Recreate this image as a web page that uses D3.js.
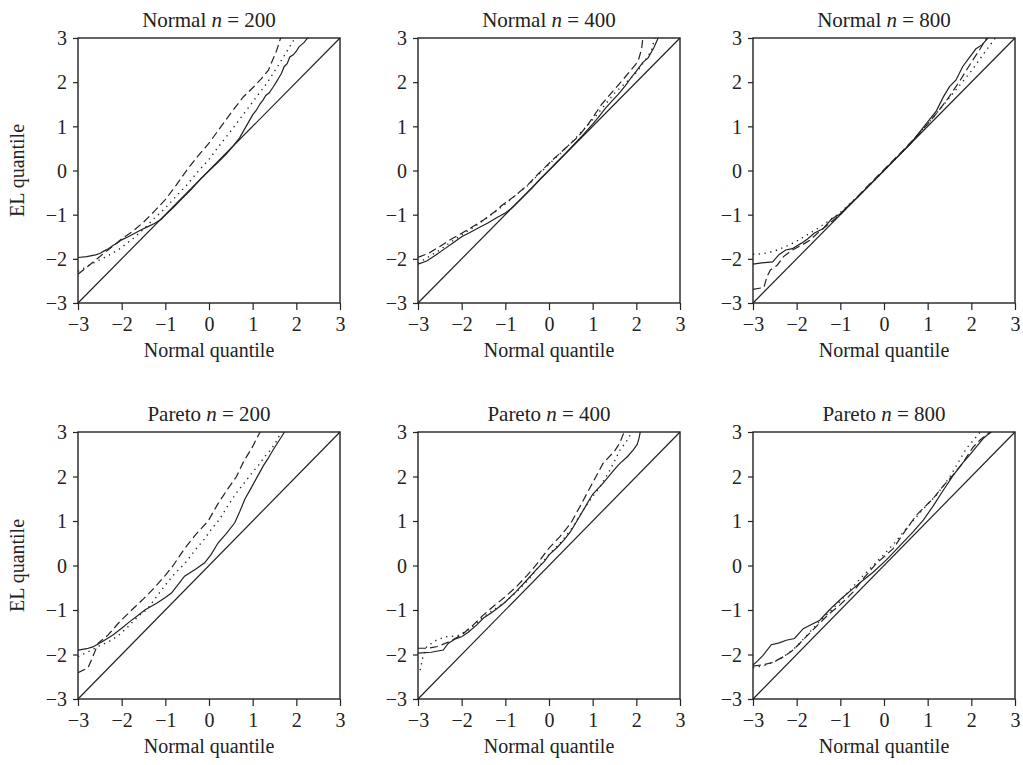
<!DOCTYPE html>
<meta charset="utf-8">
<script src="https://d3js.org/d3.v7.min.js"></script>
<style>
  body { margin: 0; background: #fff; }
  svg { font-family: "Liberation Serif", "Times New Roman", serif; }
</style>
<div id="my_dataviz"></div>
<script>

// tick values shared by every panel
const axisTicks = [-3, -2, -1, 0, 1, 2, 3];
const distNames = ["Normal", "Pareto"];
const sampleSizes = [200, 400, 800];

// curves: [normal quantile, EL quantile]
const normal200Solid = [[-3,-1.97],[-2.8,-1.95],[-2.6,-1.91],[-2.5,-1.88],[-2.4,-1.82],[-2.3,-1.77],[-2.2,-1.7],[-2.1,-1.64],[-2.0,-1.57],[-1.85,-1.5],[-1.7,-1.42],[-1.55,-1.34],[-1.4,-1.27],[-1.25,-1.2],[-1.1,-1.11],[-1.0,-1.01],[-0.8,-0.82],[-0.6,-0.62],[-0.4,-0.42],[-0.2,-0.2],[0,-0.01],[0.2,0.18],[0.4,0.38],[0.55,0.55],[0.7,0.74],[0.85,1.0],[1.0,1.26],[1.08,1.36],[1.17,1.51],[1.24,1.6],[1.3,1.7],[1.38,1.76],[1.47,1.89],[1.54,2.0],[1.6,2.1],[1.66,2.2],[1.72,2.35],[1.79,2.42],[1.85,2.57],[1.93,2.62],[2.0,2.7],[2.06,2.8],[2.12,2.85],[2.18,2.9],[2.24,2.98],[2.28,3.0]];
const normal200Dashed = [[-3,-2.35],[-2.75,-2.15],[-2.54,-1.98],[-2.25,-1.75],[-2,-1.55],[-1.75,-1.38],[-1.5,-1.17],[-1.25,-0.92],[-1,-0.66],[-0.75,-0.33],[-0.5,0.02],[-0.25,0.33],[0,0.62],[0.25,0.96],[0.5,1.3],[0.79,1.67],[1.02,1.89],[1.2,2.08],[1.36,2.27],[1.55,2.72],[1.64,3.0]];
const normal200Dotted = [[-3,-2.28],[-2.75,-2.15],[-2.5,-2.02],[-2.35,-1.95],[-2.08,-1.8],[-1.75,-1.55],[-1.5,-1.33],[-1.25,-1.08],[-1,-0.85],[-0.75,-0.58],[-0.5,-0.32],[-0.25,-0.02],[0,0.25],[0.21,0.53],[0.45,0.83],[0.71,1.17],[1.0,1.55],[1.32,1.97],[1.6,2.4],[1.89,2.87],[1.97,3.0]];

const normal400Solid = [[-3,-2.12],[-2.8,-2.05],[-2.6,-1.92],[-2.4,-1.78],[-2.2,-1.64],[-2.0,-1.5],[-1.8,-1.4],[-1.6,-1.29],[-1.4,-1.19],[-1.2,-1.07],[-1.0,-0.96],[-0.85,-0.85],[-0.6,-0.61],[-0.4,-0.41],[-0.2,-0.19],[0,0.01],[0.2,0.21],[0.4,0.41],[0.6,0.62],[0.8,0.83],[1.0,1.05],[1.12,1.19],[1.3,1.42],[1.45,1.58],[1.58,1.72],[1.75,1.92],[1.88,2.1],[2.0,2.25],[2.15,2.45],[2.27,2.55],[2.4,2.78],[2.5,3.0]];
const normal400Dashed = [[-3,-1.97],[-2.75,-1.87],[-2.5,-1.72],[-2.25,-1.56],[-2,-1.42],[-1.86,-1.34],[-1.5,-1.12],[-1.25,-0.94],[-1.09,-0.8],[-0.75,-0.55],[-0.48,-0.32],[-0.25,-0.08],[0.05,0.21],[0.35,0.48],[0.66,0.76],[0.9,1.05],[1.2,1.49],[1.45,1.78],[1.73,2.1],[2.04,2.47],[2.12,2.75],[2.15,3.0]];
const normal400Dotted = [[-3,-2.1],[-2.75,-1.95],[-2.5,-1.8],[-2.25,-1.62],[-2,-1.46],[-1.75,-1.3],[-1.5,-1.13],[-1.25,-0.95],[-1,-0.76],[-0.75,-0.55],[-0.5,-0.35],[-0.25,-0.1],[0,0.14],[0.25,0.38],[0.5,0.62],[0.75,0.88],[1,1.15],[1.25,1.45],[1.5,1.75],[1.75,1.98],[1.96,2.17],[2.15,2.42],[2.34,2.7],[2.42,3.0]];

const normal800Solid = [[-3,-2.12],[-2.8,-2.09],[-2.55,-2.07],[-2.4,-1.9],[-2.25,-1.8],[-2.1,-1.77],[-1.9,-1.65],[-1.75,-1.55],[-1.6,-1.42],[-1.4,-1.32],[-1.2,-1.1],[-1.0,-0.98],[-0.8,-0.78],[-0.6,-0.6],[-0.4,-0.4],[-0.2,-0.2],[0,0],[0.2,0.2],[0.4,0.4],[0.6,0.6],[0.8,0.85],[1.0,1.1],[1.2,1.35],[1.35,1.65],[1.5,1.9],[1.65,2.05],[1.8,2.35],[1.95,2.55],[2.1,2.75],[2.25,2.85],[2.38,3.0]];
const normal800Dashed = [[-3,-2.69],[-2.75,-2.65],[-2.68,-2.4],[-2.6,-2.25],[-2.45,-2.15],[-2.3,-1.95],[-2.1,-1.8],[-1.9,-1.7],[-1.7,-1.58],[-1.5,-1.4],[-1.25,-1.2],[-1,-1.0],[-0.5,-0.48],[0,0.02],[0.5,0.52],[1,1.05],[1.25,1.35],[1.5,1.68],[1.75,2.05],[2,2.45],[2.2,2.75],[2.35,3.0]];
const normal800Dotted = [[-3,-1.9],[-2.75,-1.88],[-2.5,-1.82],[-2.25,-1.72],[-2,-1.6],[-1.75,-1.45],[-1.5,-1.3],[-1.25,-1.13],[-1,-0.95],[-0.5,-0.5],[0,0],[0.5,0.5],[1,1.05],[1.25,1.35],[1.5,1.65],[1.75,1.95],[2,2.25],[2.25,2.6],[2.55,3.0]];

const pareto200Solid = [[-3,-1.9],[-2.8,-1.87],[-2.66,-1.83],[-2.43,-1.7],[-2.2,-1.56],[-2.0,-1.41],[-1.8,-1.25],[-1.6,-1.1],[-1.47,-1.0],[-1.2,-0.85],[-1.0,-0.72],[-0.86,-0.62],[-0.7,-0.42],[-0.56,-0.24],[-0.3,-0.08],[-0.1,0.06],[0.05,0.25],[0.21,0.51],[0.4,0.72],[0.59,0.96],[0.7,1.2],[0.82,1.49],[0.97,1.75],[1.12,2.02],[1.25,2.25],[1.35,2.4],[1.47,2.6],[1.58,2.77],[1.73,3.0]];
const pareto200Dashed = [[-3,-2.41],[-2.77,-2.3],[-2.66,-2.05],[-2.54,-1.75],[-2.31,-1.56],[-2.05,-1.27],[-1.77,-1.0],[-1.5,-0.75],[-1.25,-0.5],[-1.0,-0.22],[-0.82,0.0],[-0.56,0.38],[-0.3,0.7],[-0.02,1.0],[0.2,1.38],[0.43,1.72],[0.63,2.0],[0.8,2.35],[0.97,2.62],[1.17,3.0]];
const pareto200Dotted = [[-3,-2.05],[-2.75,-1.93],[-2.5,-1.8],[-2.31,-1.72],[-2.08,-1.58],[-1.85,-1.37],[-1.6,-1.12],[-1.43,-1.0],[-1.2,-0.7],[-1.01,-0.45],[-0.8,-0.2],[-0.55,0.05],[-0.33,0.33],[-0.1,0.6],[0.05,0.81],[0.25,1.05],[0.43,1.34],[0.62,1.62],[0.82,1.87],[1.0,2.1],[1.13,2.25],[1.28,2.45],[1.43,2.62],[1.55,2.8],[1.65,3.0]];

const pareto400Solid = [[-3,-1.97],[-2.7,-1.95],[-2.42,-1.9],[-2.31,-1.75],[-2.15,-1.65],[-2,-1.6],[-1.85,-1.5],[-1.66,-1.34],[-1.5,-1.18],[-1.3,-1.05],[-1.1,-0.9],[-1,-0.82],[-0.75,-0.58],[-0.5,-0.32],[-0.28,-0.08],[-0.1,0.1],[0,0.24],[0.18,0.4],[0.35,0.58],[0.5,0.77],[0.7,1.1],[0.85,1.35],[1.0,1.6],[1.24,1.85],[1.5,2.16],[1.63,2.3],[1.8,2.45],[1.93,2.6],[2.02,2.72],[2.06,2.85],[2.09,3.0]];
const pareto400Dashed = [[-3,-1.86],[-2.77,-1.86],[-2.55,-1.82],[-2.3,-1.72],[-2.0,-1.56],[-1.75,-1.35],[-1.5,-1.11],[-1.25,-0.9],[-1,-0.7],[-0.75,-0.48],[-0.5,-0.22],[-0.28,0.03],[0,0.39],[0.25,0.65],[0.5,0.95],[0.75,1.4],[1.0,1.86],[1.24,2.3],[1.5,2.57],[1.62,2.75],[1.72,3.0]];
const pareto400Dotted = [[-2.95,-2.35],[-2.9,-2.1],[-2.8,-1.82],[-2.57,-1.67],[-2.35,-1.6],[-2.1,-1.58],[-1.8,-1.42],[-1.5,-1.15],[-1.2,-0.95],[-1,-0.82],[-0.75,-0.6],[-0.5,-0.35],[-0.25,-0.05],[0,0.25],[0.25,0.5],[0.5,0.8],[0.75,1.2],[1.0,1.55],[1.17,1.77],[1.4,2.15],[1.63,2.6],[1.78,2.8],[1.9,3.0]];

const pareto800Solid = [[-3,-2.24],[-2.9,-2.15],[-2.77,-2.02],[-2.58,-1.78],[-2.4,-1.74],[-2.24,-1.68],[-2.05,-1.64],[-1.85,-1.42],[-1.65,-1.32],[-1.47,-1.23],[-1.3,-1.05],[-1.17,-0.92],[-0.95,-0.72],[-0.71,-0.52],[-0.5,-0.35],[-0.25,-0.15],[0.05,0.12],[0.3,0.38],[0.66,0.75],[0.9,1.02],[1.12,1.33],[1.35,1.68],[1.58,2.02],[1.8,2.3],[1.96,2.48],[2.1,2.65],[2.27,2.85],[2.35,2.92],[2.46,3.0]];
const pareto800Dashed = [[-3,-2.26],[-2.77,-2.23],[-2.55,-2.18],[-2.3,-2.05],[-2.08,-1.9],[-1.78,-1.6],[-1.5,-1.32],[-1.25,-1.08],[-1,-0.88],[-0.71,-0.6],[-0.48,-0.3],[-0.2,0.02],[0.21,0.38],[0.5,0.8],[0.74,1.13],[1.12,1.5],[1.35,1.78],[1.58,2.03],[1.8,2.3],[2.04,2.66],[2.2,2.82],[2.34,2.93],[2.42,3.0]];
const pareto800Dotted = [[-3,-2.3],[-2.75,-2.25],[-2.43,-2.13],[-2.2,-1.98],[-2.0,-1.82],[-1.75,-1.55],[-1.5,-1.28],[-1.25,-1.05],[-1,-0.8],[-0.75,-0.52],[-0.5,-0.25],[-0.25,0.0],[0,0.25],[0.25,0.52],[0.5,0.82],[0.75,1.1],[1.0,1.38],[1.2,1.58],[1.5,1.98],[1.88,2.62],[2.11,2.89],[2.2,3.0]];

const curves = [
  [[normal200Solid, normal200Dashed, normal200Dotted],
   [normal400Solid, normal400Dashed, normal400Dotted],
   [normal800Solid, normal800Dashed, normal800Dotted]],
  [[pareto200Solid, pareto200Dashed, pareto200Dotted],
   [pareto400Solid, pareto400Dashed, pareto400Dotted],
   [pareto800Solid, pareto800Dashed, pareto800Dotted]]
];

// layout of the 2 x 3 grid
const colLeft = [78, 418, 753];
const rowTop = [38, 432];
const panelW = 262;
const panelH = [265, 267];
const ink = "#222";
const lineStyles = [null, "8,4", "1.3,4.5"];

const svg = d3.select("#my_dataviz")
  .append("svg")
  .attr("width", 1023)
  .attr("height", 765);

rowTop.forEach((top, r) => {
  colLeft.forEach((left, c) => {
    const h = panelH[r];
    const g = svg.append("g")
      .attr("transform", `translate(${left},${top})`);

    const x = d3.scaleLinear().domain([-3, 3]).range([0, panelW]);
    const y = d3.scaleLinear().domain([-3, 3]).range([h, 0]);

    const clipId = `clip-${r}-${c}`;
    g.append("clipPath").attr("id", clipId)
      .append("rect").attr("width", panelW).attr("height", h);

    // axes
    const fmt = d3.format("d");
    const xAxis = g.append("g")
      .attr("transform", `translate(0,${h})`)
      .call(d3.axisBottom(x).tickValues(axisTicks).tickFormat(fmt).tickSize(7).tickSizeOuter(0).tickPadding(5));
    const yAxis = g.append("g")
      .call(d3.axisLeft(y).tickValues(axisTicks).tickFormat(fmt).tickSize(5).tickSizeOuter(0).tickPadding(6));
    [xAxis, yAxis].forEach(a => {
      a.select(".domain").remove();
      a.selectAll("line").attr("stroke", ink).attr("stroke-width", 1.2);
      a.selectAll("text")
        .attr("fill", ink)
        .style("font-family", "Liberation Serif")
        .style("font-size", "20px");
    });
    yAxis.selectAll("text").attr("dy", "0.34em");
    xAxis.selectAll("text").attr("dy", "0.8em");

    // frame
    g.append("rect")
      .attr("width", panelW)
      .attr("height", h)
      .attr("fill", "none")
      .attr("stroke", ink)
      .attr("stroke-width", 1.4);

    // reference diagonal
    g.append("line")
      .attr("x1", x(-3)).attr("y1", y(-3))
      .attr("x2", x(3)).attr("y2", y(3))
      .attr("stroke", ink)
      .attr("stroke-width", 1.2);

    const line = d3.line().x(d => x(d[0])).y(d => y(d[1]));
    g.append("g").attr("clip-path", `url(#${clipId})`)
      .selectAll("path")
      .data(curves[r][c])
      .join("path")
      .attr("d", line)
      .attr("fill", "none")
      .attr("stroke", ink)
      .attr("stroke-width", (d, i) => i === 2 ? 1.4 : 1.2)
      .attr("stroke-dasharray", (d, i) => lineStyles[i]);

    // title
    const title = g.append("text")
      .attr("x", panelW / 2)
      .attr("y", -11)
      .attr("text-anchor", "middle")
      .attr("fill", ink)
      .style("font-size", "21px");
    title.append("tspan").text(`${distNames[r]} `);
    title.append("tspan").style("font-style", "italic").text("n");
    title.append("tspan").text(` = ${sampleSizes[c]}`);

    // x label
    g.append("text")
      .attr("x", panelW / 2)
      .attr("y", h + 54)
      .attr("text-anchor", "middle")
      .attr("fill", ink)
      .style("font-size", "20px")
      .text("Normal quantile");

    // y label only on the left column
    if (c === 0) {
      g.append("text")
        .attr("transform", `translate(${-54},${h / 2}) rotate(-90)`)
        .attr("text-anchor", "middle")
        .attr("fill", ink)
        .style("font-size", "20px")
        .text("EL quantile");
    }
  });
});

</script>
